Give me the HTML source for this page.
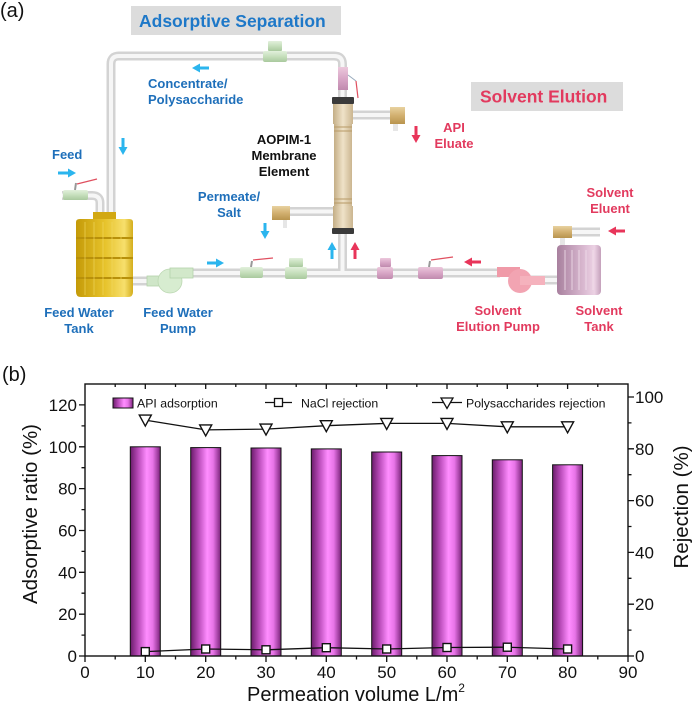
<!DOCTYPE html>
<html><head><meta charset="utf-8">
<style>
html,body{margin:0;padding:0;background:#fff;}
svg{display:block;}
text{font-family:"Liberation Sans",Arial,sans-serif;}
.b{fill:#1e6fba;font-weight:bold;font-size:13px;}
.r{fill:#e23a5e;font-weight:bold;font-size:13px;}
.k{fill:#111;font-weight:bold;font-size:13px;}
.tk{font-size:17px;fill:#111;}
</style></head><body>
<svg width="692" height="703" viewBox="0 0 692 703" xmlns="http://www.w3.org/2000/svg">
<defs>
<linearGradient id="bar" x1="0" y1="0" x2="1" y2="0">
<stop offset="0" stop-color="#6a1c6a"/>
<stop offset="0.25" stop-color="#b548b5"/>
<stop offset="0.55" stop-color="#ff8dff"/>
<stop offset="0.75" stop-color="#e774e7"/>
<stop offset="1" stop-color="#7b237b"/>
</linearGradient>
<linearGradient id="tank" x1="0" x2="1" y1="0" y2="0">
<stop offset="0" stop-color="#c49a08"/>
<stop offset="0.5" stop-color="#e6c22a"/>
<stop offset="0.85" stop-color="#f7df6c"/>
<stop offset="1" stop-color="#d4ae1c"/>
</linearGradient>
<linearGradient id="stank" x1="0" x2="1" y1="0" y2="0">
<stop offset="0" stop-color="#a8809e"/>
<stop offset="0.6" stop-color="#d9b8d0"/>
<stop offset="0.85" stop-color="#ecd2e4"/>
<stop offset="1" stop-color="#c4a0bb"/>
</linearGradient>
<linearGradient id="mem" x1="0" x2="1" y1="0" y2="0">
<stop offset="0" stop-color="#c4ae86"/>
<stop offset="0.5" stop-color="#efe2c8"/>
<stop offset="1" stop-color="#cbb690"/>
</linearGradient>
<linearGradient id="brass" x1="0" x2="0" y1="0" y2="1">
<stop offset="0" stop-color="#e8d2a0"/>
<stop offset="0.5" stop-color="#d2b070"/>
<stop offset="1" stop-color="#b8944e"/>
</linearGradient>
<linearGradient id="grn" x1="0" x2="0" y1="0" y2="1">
<stop offset="0" stop-color="#e2f0dc"/>
<stop offset="0.5" stop-color="#c6dfbc"/>
<stop offset="1" stop-color="#a9c99e"/>
</linearGradient>
<linearGradient id="pnk" x1="0" x2="0" y1="0" y2="1">
<stop offset="0" stop-color="#ecc8dc"/>
<stop offset="0.5" stop-color="#d8a6c6"/>
<stop offset="1" stop-color="#c08aae"/>
</linearGradient>
</defs>

<!-- ============ (a) diagram ============ -->
<text x="0" y="17" font-size="20" fill="#111">(a)</text>

<rect x="131" y="6" width="210" height="29" fill="#dcdcdc"/>
<text x="139" y="27" font-size="17.5" font-weight="bold" fill="#1e78c8">Adsorptive Separation</text>

<rect x="471" y="82" width="152" height="29" fill="#dcdcdc"/>
<text x="480" y="102.5" font-size="17.5" font-weight="bold" fill="#e23a5e">Solvent Elution</text>

<!-- pipes -->
<g fill="none">
<path d="M111,215 V64 Q111,56 119,56 H334 Q342.5,56 342.5,64 V97 M62,195.5 H92 Q100,195.5 100,203 V214 M133,281 H160 M170,273 H500 M342.5,234 V273 M530,280 H557 M352,115 H392 M290,211.5 H334 M570,232 H600" stroke="#d3d3d3" stroke-width="9"/>
<path d="M111,215 V64 Q111,56 119,56 H334 Q342.5,56 342.5,64 V97 M62,195.5 H92 Q100,195.5 100,203 V214 M133,281 H160 M170,273 H500 M342.5,234 V273 M530,280 H557 M352,115 H392 M290,211.5 H334 M570,232 H600" stroke="#f6f6f6" stroke-width="4"/>
</g>

<!-- feed water tank -->
<rect x="93" y="212" width="23" height="9" fill="#d2a812"/>
<path d="M76,222 Q76,219 80,219 H129 Q133,219 133,222 V292 Q133,297 128,297 H81 Q76,297 76,292 Z" fill="url(#tank)"/>
<g stroke="#b8900a" stroke-width="2">
<line x1="76" y1="238" x2="133" y2="238"/><line x1="76" y1="258" x2="133" y2="258"/><line x1="76" y1="278" x2="133" y2="278"/>
</g>
<g stroke="#f2d860" stroke-width="0.8" opacity="0.8">
<line x1="85" y1="222" x2="85" y2="295"/><line x1="94" y1="222" x2="94" y2="295"/><line x1="103" y1="222" x2="103" y2="295"/><line x1="112" y1="222" x2="112" y2="295"/><line x1="121" y1="222" x2="121" y2="295"/>
</g>

<!-- feed water pump (green) -->
<rect x="147" y="276" width="23" height="10" fill="#cfe6c8" stroke="#b4d2aa" stroke-width="0.8"/>
<circle cx="170" cy="281" r="12" fill="#d7ecd0" stroke="#bcd8b2" stroke-width="0.8"/>
<rect x="170" y="268" width="23" height="10" fill="#d2e8ca" stroke="#b4d2aa" stroke-width="0.8"/>

<!-- solvent pump (pink) -->
<rect x="497" y="267" width="23" height="10" fill="#f09aa8"/>
<circle cx="520" cy="281" r="12" fill="#f2a4b2"/>
<rect x="520" y="276" width="25" height="9" fill="#f5b2bd"/>

<!-- solvent tank -->
<rect x="557" y="245" width="44" height="50" rx="4" fill="url(#stank)"/>
<g stroke="#f2e0ec" stroke-width="0.8">
<line x1="565" y1="250" x2="565" y2="290"/><line x1="572" y1="250" x2="572" y2="290"/><line x1="579" y1="250" x2="579" y2="290"/><line x1="586" y1="250" x2="586" y2="290"/><line x1="593" y1="250" x2="593" y2="290"/>
</g>

<!-- membrane element -->
<rect x="334" y="104" width="18" height="124" fill="url(#mem)"/>
<rect x="333" y="104" width="20" height="20" fill="url(#mem)"/>
<rect x="333" y="206" width="20" height="22" fill="url(#mem)"/>
<g stroke="#b89a66" stroke-width="1">
<line x1="334" y1="127" x2="352" y2="127"/><line x1="334" y1="131" x2="352" y2="131"/>
<line x1="334" y1="199" x2="352" y2="199"/><line x1="334" y1="203" x2="352" y2="203"/>
</g>
<rect x="332" y="97" width="22" height="7" rx="1" fill="#3a3a3a"/>
<rect x="332" y="228" width="22" height="6" rx="1" fill="#3a3a3a"/>

<!-- brass fittings -->
<rect x="390" y="107" width="15" height="17" fill="url(#brass)"/>
<rect x="393" y="124" width="5" height="7" fill="#e6e6e6"/>
<rect x="272" y="206" width="18" height="14" fill="url(#brass)"/>
<rect x="283" y="220" width="4" height="8" fill="#e6e6e6"/>
<rect x="553" y="226" width="19" height="12" fill="url(#brass)"/>
<rect x="560" y="238" width="5" height="7" fill="#e6e6e6"/>

<!-- valves -->
<rect x="63" y="190" width="25" height="10" rx="2" fill="url(#grn)"/>
<line x1="75" y1="190" x2="76" y2="183" stroke="#999" stroke-width="2"/>
<line x1="77" y1="184" x2="97" y2="179" stroke="#e05060" stroke-width="1.2"/>

<rect x="268" y="41" width="14" height="10" rx="1" fill="url(#grn)"/>
<rect x="263" y="51" width="24" height="11" rx="2" fill="url(#grn)"/>

<rect x="338" y="67" width="10" height="23" fill="url(#pnk)"/>
<line x1="348" y1="75" x2="356" y2="81" stroke="#9ab" stroke-width="1"/>
<line x1="356" y1="81" x2="358" y2="98" stroke="#e05060" stroke-width="1.2"/>

<rect x="240" y="267" width="23" height="11" rx="2" fill="url(#grn)"/>
<line x1="251" y1="267" x2="252" y2="261" stroke="#999" stroke-width="2"/>
<line x1="253" y1="260" x2="273" y2="258" stroke="#e05060" stroke-width="1.2"/>

<rect x="289" y="258" width="14" height="9" rx="1" fill="url(#grn)"/>
<rect x="285" y="267" width="22" height="12" rx="2" fill="url(#grn)"/>

<rect x="380" y="258" width="11" height="9" rx="1" fill="url(#pnk)"/>
<rect x="377" y="267" width="16" height="12" rx="2" fill="url(#pnk)"/>

<rect x="418" y="267" width="25" height="12" rx="2" fill="url(#pnk)"/>
<line x1="429" y1="267" x2="430" y2="261" stroke="#999" stroke-width="2"/>
<line x1="431" y1="260" x2="453" y2="257" stroke="#e05060" stroke-width="1.2"/>

<!-- arrows -->
<g fill="#2bb5ee">
<rect x="58" y="171.5" width="11" height="3"/><polygon points="68,168.5 76,173 68,177.5"/>
<rect x="199" y="66.5" width="10" height="3"/><polygon points="200,63.5 192,68 200,72.5"/>
<rect x="121.5" y="138" width="3" height="10"/><polygon points="118.5,147 127.5,147 123,155"/>
<rect x="263.5" y="223" width="3" height="9"/><polygon points="260.5,231 269.5,231 265,239"/>
<rect x="207" y="261.5" width="10" height="3"/><polygon points="216,258.5 224,263 216,267.5"/>
<rect x="330.5" y="249" width="3" height="10"/><polygon points="327.5,250 336.5,250 332,242"/>
</g>
<g fill="#e8355a">
<rect x="414.5" y="126" width="3" height="10"/><polygon points="411.5,135 420.5,135 416,143"/>
<rect x="353.5" y="249" width="3" height="10"/><polygon points="350.5,250 359.5,250 355,242"/>
<rect x="471" y="260.5" width="10" height="3"/><polygon points="472,257.5 464,262 472,266.5"/>
<rect x="615" y="229.5" width="10" height="3"/><polygon points="616,226.5 608,231 616,235.5"/>
</g>

<!-- labels -->
<text class="b" x="52" y="159">Feed</text>
<text class="b" x="148" y="88">Concentrate/</text>
<text class="b" x="148" y="104">Polysaccharide</text>
<text class="k" x="284" y="144" text-anchor="middle">AOPIM-1</text>
<text class="k" x="284" y="160" text-anchor="middle">Membrane</text>
<text class="k" x="284" y="176" text-anchor="middle">Element</text>
<text class="b" x="229" y="201" text-anchor="middle">Permeate/</text>
<text class="b" x="229" y="217" text-anchor="middle">Salt</text>
<text class="b" x="79" y="317" text-anchor="middle">Feed Water</text>
<text class="b" x="79" y="333" text-anchor="middle">Tank</text>
<text class="b" x="178" y="317" text-anchor="middle">Feed Water</text>
<text class="b" x="178" y="333" text-anchor="middle">Pump</text>
<text class="r" x="454" y="132" text-anchor="middle">API</text>
<text class="r" x="454" y="148" text-anchor="middle">Eluate</text>
<text class="r" x="610" y="197" text-anchor="middle">Solvent</text>
<text class="r" x="610" y="213" text-anchor="middle">Eluent</text>
<text class="r" x="498" y="315" text-anchor="middle">Solvent</text>
<text class="r" x="498" y="331" text-anchor="middle">Elution Pump</text>
<text class="r" x="599" y="315" text-anchor="middle">Solvent</text>
<text class="r" x="599" y="331" text-anchor="middle">Tank</text>

<!-- ============ (b) chart ============ -->
<text x="2" y="381" font-size="20" fill="#111">(b)</text>

<!-- bars -->
<g fill="url(#bar)" stroke="#111" stroke-width="1">
<rect x="130.3" y="446.8" width="30" height="209.2"/>
<rect x="190.7" y="447.6" width="30" height="208.4"/>
<rect x="251" y="448.0" width="30" height="208"/>
<rect x="311.3" y="448.9" width="30" height="207.1"/>
<rect x="371.7" y="452.0" width="30" height="204"/>
<rect x="432" y="455.6" width="30" height="200.4"/>
<rect x="492.3" y="459.8" width="30" height="196.2"/>
<rect x="552.6" y="464.8" width="30" height="191.2"/>
</g>

<!-- lines -->
<g fill="none" stroke="#111" stroke-width="1.3">
<polyline points="145.3,420.1 205.7,429.9 266,429.1 326.3,425.7 386.7,423.4 447,423.4 507.3,426.8 567.6,426.8"/>
<polyline points="145.3,651.6 205.7,649.0 266,649.8 326.3,647.7 386.7,649.0 447,647.5 507.3,647.2 567.6,649.0"/>
</g>
<!-- triangles -->
<g fill="#fff" stroke="#111" stroke-width="1.4">
<polygon points="139.3,415.1 151.3,415.1 145.3,426.1"/>
<polygon points="199.7,424.9 211.7,424.9 205.7,435.9"/>
<polygon points="260,424.1 272,424.1 266,435.1"/>
<polygon points="320.3,420.7 332.3,420.7 326.3,431.7"/>
<polygon points="380.7,418.4 392.7,418.4 386.7,429.4"/>
<polygon points="441,418.4 453,418.4 447,429.4"/>
<polygon points="501.3,421.8 513.3,421.8 507.3,432.8"/>
<polygon points="561.6,421.8 573.6,421.8 567.6,432.8"/>
</g>
<!-- squares -->
<g fill="#fff" stroke="#111" stroke-width="1.4">
<rect x="141.3" y="647.6" width="8" height="8"/>
<rect x="201.7" y="645.0" width="8" height="8"/>
<rect x="262" y="645.8" width="8" height="8"/>
<rect x="322.3" y="643.7" width="8" height="8"/>
<rect x="382.7" y="645.0" width="8" height="8"/>
<rect x="443" y="643.5" width="8" height="8"/>
<rect x="503.3" y="643.2" width="8" height="8"/>
<rect x="563.6" y="645.0" width="8" height="8"/>
</g>

<!-- frame -->
<rect x="85" y="384" width="543" height="272" fill="none" stroke="#111" stroke-width="1.4"/>

<!-- ticks -->
<g stroke="#111" stroke-width="1.3">
<!-- bottom major -->
<path d="M85,656v6 M145.3,656v6 M205.7,656v6 M266,656v6 M326.3,656v6 M386.7,656v6 M447,656v6 M507.3,656v6 M567.6,656v6 M628,656v6"/>
<path d="M115.2,656v3.5 M175.5,656v3.5 M235.8,656v3.5 M296.2,656v3.5 M356.5,656v3.5 M416.8,656v3.5 M477.2,656v3.5 M537.5,656v3.5 M597.8,656v3.5"/>
<!-- top inward -->
<path d="M145.3,384v5 M205.7,384v5 M266,384v5 M326.3,384v5 M386.7,384v5 M447,384v5 M507.3,384v5 M567.6,384v5"/>
<path d="M115.2,384v3 M175.5,384v3 M235.8,384v3 M296.2,384v3 M356.5,384v3 M416.8,384v3 M477.2,384v3 M537.5,384v3 M597.8,384v3"/>
<!-- left -->
<path d="M85,656h-6 M85,614.2h-6 M85,572.3h-6 M85,530.5h-6 M85,488.6h-6 M85,446.8h-6 M85,404.9h-6"/>
<path d="M85,635.1h-3.5 M85,593.2h-3.5 M85,551.4h-3.5 M85,509.6h-3.5 M85,467.7h-3.5 M85,425.9h-3.5"/>
<!-- right -->
<path d="M628,656h6 M628,604.2h6 M628,552.4h6 M628,500.6h6 M628,448.8h6 M628,397h6"/>
<path d="M628,630.1h3.5 M628,578.3h3.5 M628,526.5h3.5 M628,474.7h3.5 M628,422.9h3.5"/>
</g>

<!-- tick labels -->
<g class="tk" text-anchor="middle">
<text x="85" y="678">0</text><text x="145.3" y="678">10</text><text x="205.7" y="678">20</text><text x="266" y="678">30</text><text x="326.3" y="678">40</text><text x="386.7" y="678">50</text><text x="447" y="678">60</text><text x="507.3" y="678">70</text><text x="567.6" y="678">80</text><text x="628" y="678">90</text>
</g>
<g class="tk" text-anchor="end">
<text x="77" y="662">0</text><text x="77" y="620.2">20</text><text x="77" y="578.3">40</text><text x="77" y="536.5">60</text><text x="77" y="494.6">80</text><text x="77" y="452.8">100</text><text x="77" y="410.9">120</text>
</g>
<g class="tk" text-anchor="start">
<text x="635" y="662">0</text><text x="635" y="610.2">20</text><text x="635" y="558.4">40</text><text x="635" y="506.6">60</text><text x="635" y="454.8">80</text><text x="635" y="403">100</text>
</g>

<!-- axis titles -->
<text x="356" y="701" font-size="20" fill="#111" text-anchor="middle">Permeation volume L/m<tspan font-size="12" dy="-9">2</tspan></text>
<text transform="translate(37,514) rotate(-90)" font-size="20.5" fill="#111" text-anchor="middle">Adsorptive ratio (%)</text>
<text transform="translate(688,507) rotate(-90)" font-size="20.5" fill="#111" text-anchor="middle">Rejection (%)</text>

<!-- legend -->
<rect x="113" y="398" width="20" height="10" fill="url(#bar)" stroke="#111" stroke-width="1"/>
<text x="137" y="407.5" font-size="12.3" fill="#111">API adsorption</text>
<line x1="265" y1="402.5" x2="292" y2="402.5" stroke="#111" stroke-width="1.3"/>
<rect x="274.5" y="398.5" width="8" height="8" fill="#fff" stroke="#111" stroke-width="1.3"/>
<text x="301" y="407.5" font-size="12.3" fill="#111">NaCl rejection</text>
<line x1="432" y1="402.5" x2="462" y2="402.5" stroke="#111" stroke-width="1.3"/>
<polygon points="441,398 453,398 447,408.5" fill="#fff" stroke="#111" stroke-width="1.3"/>
<text x="466" y="407.5" font-size="12.3" fill="#111">Polysaccharides rejection</text>
</svg>
</body></html>
